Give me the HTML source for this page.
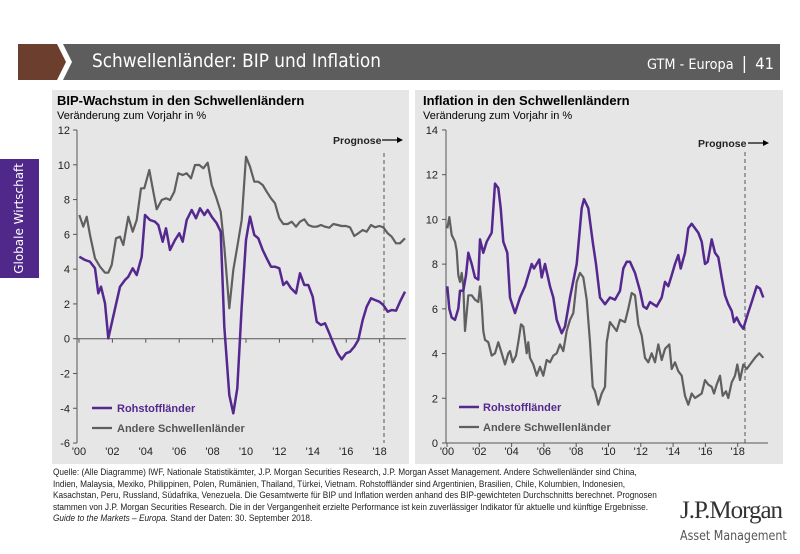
<!DOCTYPE html>
<html><head><meta charset="utf-8"><style>
body{margin:0;width:800px;height:554px;background:#fff;overflow:hidden;position:relative;font-family:"Liberation Sans",Arial,sans-serif}
.a{position:absolute}
</style></head><body>
<svg class="a" style="left:0;top:0" width="800" height="554" viewBox="0 0 800 554">
<polygon points="18,44 57,44 66,62 57,80 18,80" fill="#6b3e2e"/>
<polygon points="63,44 780,44 780,80 63,80 72,62" fill="#5d5d5d"/>
<rect x="0" y="159" width="39" height="119" fill="#50288a"/>
<rect x="52" y="90" width="357" height="374" fill="#e6e6e6"/>
<rect x="415" y="90" width="368" height="374" fill="#e6e6e6"/>
<g id="g"></g>
</svg>
<div class="a" style="left:92px;top:50px;color:#fff;font-size:19px;font-family:'DejaVu Sans',sans-serif;transform-origin:0 0;transform:scaleX(0.89);white-space:nowrap">Schwellenländer: BIP und Inflation</div>
<div class="a" style="left:647px;top:54px;color:#fff;font-size:14px;font-family:'DejaVu Sans',sans-serif;transform-origin:0 0;transform:scaleX(0.92);white-space:nowrap">GTM - Europa&nbsp;&nbsp;<span style="font-size:17px">|</span>&nbsp;&nbsp;<span style="font-size:16px">41</span></div>
<div class="a" style="left:6px;top:278px;width:119px;transform-origin:0 0;transform:rotate(-90deg);color:#fff;font-size:12px;font-family:'DejaVu Sans',sans-serif;text-align:center;line-height:26px;white-space:nowrap">Globale Wirtschaft</div>
<div class="a" style="left:57px;top:93px;font-size:13px;font-weight:bold">BIP-Wachstum in den Schwellenländern</div>
<div class="a" style="left:57px;top:110px;font-size:11px">Veränderung zum Vorjahr in %</div>
<div class="a" style="left:423px;top:93px;font-size:13px;font-weight:bold">Inflation in den Schwellenländern</div>
<div class="a" style="left:423px;top:110px;font-size:11px">Veränderung zum Vorjahr in %</div>
<div class="a" style="left:53px;top:467px;font-size:9.2px;line-height:11.6px;color:#222;white-space:nowrap;transform-origin:0 0;transform:scaleX(0.9)">Quelle: (Alle Diagramme) IWF, Nationale Statistikämter, J.P. Morgan Securities Research, J.P. Morgan Asset Management. Andere Schwellenländer sind China,<br>Indien, Malaysia, Mexiko, Philippinen, Polen, Rumänien, Thailand, Türkei, Vietnam. Rohstoffländer sind Argentinien, Brasilien, Chile, Kolumbien, Indonesien,<br>Kasachstan, Peru, Russland, Südafrika, Venezuela. Die Gesamtwerte für BIP und Inflation werden anhand des BIP-gewichteten Durchschnitts berechnet. Prognosen<br>stammen von J.P. Morgan Securities Research. Die in der Vergangenheit erzielte Performance ist kein zuverlässiger Indikator für aktuelle und künftige Ergebnisse.<br><i>Guide to the Markets – Europa.</i> Stand der Daten: 30. September 2018.</div>
<div class="a" style="left:680px;top:497px;font-size:25px;font-family:'Liberation Serif',serif;color:#333;letter-spacing:-1px;white-space:nowrap">J.P.Morgan</div>
<div class="a" style="left:680px;top:528px;font-size:13.5px;font-family:'DejaVu Sans',sans-serif;color:#555;white-space:nowrap;transform-origin:0 0;transform:scaleX(0.82)">Asset Management</div>
<script>
var NS="http://www.w3.org/2000/svg",g=document.getElementById('g');
function el(t,a,txt){var e=document.createElementNS(NS,t);for(var k in a)e.setAttribute(k,a[k]);if(txt!=null)e.textContent=txt;g.appendChild(e);return e;}
function line(x1,y1,x2,y2,c,w,d){var a={x1:x1,y1:y1,x2:x2,y2:y2,stroke:c||'#555','stroke-width':w||1};if(d)a['stroke-dasharray']=d;el('line',a);}
function txt(x,y,s,o){var a={x:x,y:y,'font-size':11,'font-family':'Liberation Sans, Arial, sans-serif',fill:'#222'};for(var k in o)a[k]=o[k];el('text',a,s);}
function poly(pts,ox,oy,col,w){var s=[];for(var i=0;i<pts.length;i+=2)s.push((ox+pts[i]/3).toFixed(1)+','+(oy+pts[i+1]/3).toFixed(1));el('polyline',{points:s.join(' '),fill:'none',stroke:col,'stroke-width':w,'stroke-linejoin':'round'});}
var Lu=17.39,Lz=338.7;
line(77,130,77,443);
for(var v=12;v>=-6;v-=2){var y=Lz-v*Lu;line(73,y,77,y);txt(70,y+4,String(v),{'text-anchor':'end'});}
line(77,Lz,406,Lz);
for(var i=0;i<10;i++){var x=79+i*33.4;line(x,Lz,x,Lz+4);txt(x,455,"'"+(i*2<10?'0':'')+(i*2),{'text-anchor':'middle'});}
line(384,153,384,443,'#555',1,'4,3');
txt(333,144,'Prognose',{'font-weight':'bold','font-size':10.5});
line(382,140,398,140,'#000',1.2);el('polygon',{points:'397,137 403,140 397,143',fill:'#000'});
var gp=[118,285,130,320,140,290,150,345,165,415,180,440,195,458,205,458,215,435,228,355,240,350,250,375,265,290,278,335,290,300,303,205,313,205,328,150,340,215,350,268,365,240,378,235,390,240,403,215,415,160,428,165,440,160,453,175,465,135,478,135,490,145,503,128,515,195,528,230,542,275,553,380,568,565,580,450,592,380,605,300,618,110,630,140,643,185,655,185,668,195,680,215,693,235,705,250,718,295,730,312,743,312,755,305,768,320,780,305,793,298,805,315,818,320,830,320,843,315,855,320,868,323,880,312,893,315,905,318,918,318,930,322,943,348,955,340,968,330,980,335,993,315,1005,322,1018,318,1030,322,1043,340,1055,350,1068,370,1080,370,1095,355];
var pp=[118,410,135,420,150,425,165,445,175,520,183,500,195,550,205,655,215,610,240,500,255,480,265,470,278,445,290,465,305,410,315,285,330,300,345,305,355,315,368,365,378,325,390,390,405,360,418,340,428,365,440,300,455,270,468,295,480,265,493,285,503,270,515,290,530,310,542,335,553,620,568,825,580,880,592,805,605,560,618,360,630,290,643,345,655,355,668,390,680,415,693,440,705,440,718,445,730,495,740,485,753,505,768,520,780,460,793,495,805,495,818,530,830,605,843,615,855,610,868,640,880,670,893,700,905,718,918,700,930,695,943,680,955,660,968,600,980,560,993,535,1005,540,1018,545,1030,555,1043,575,1055,570,1068,572,1080,545,1095,515];
poly(gp,40,120,'#5f5f5f',2.2);poly(pp,40,120,'#55288f',2.5);
line(92,408,112,408,'#55288f',2.5);txt(117,412,'Rohstoffländer',{'font-weight':'bold',fill:'#55288f'});
line(92,428,112,428,'#5f5f5f',2.2);txt(117,432,'Andere Schwellenländer',{'font-weight':'bold',fill:'#555'});
var Rz=443,Ru=22.36;
line(446,130,446,443);
for(var v=0;v<=14;v+=2){var y=Rz-v*Ru;line(442,y,446,y);txt(438,y+4,String(v),{'text-anchor':'end'});}
line(446,Rz,768,Rz);
for(var i=0;i<10;i++){var x=447+i*32.3;line(x,Rz,x,Rz+4);txt(x,455,"'"+(i*2<10?'0':'')+(i*2),{'text-anchor':'middle'});}
line(745,152,745,443,'#555',1,'4,3');
txt(698,147,'Prognose',{'font-weight':'bold','font-size':10.5});
line(748,143,764,143,'#000',1.2);el('polygon',{points:'763,140 769,143 763,146',fill:'#000'});
function conv(a){var r=[];for(var i=0;i<a.length;i+=2){r.push(a[i],968-67*a[i+1]);}return r;}
var ip=[112,7.0,118,6.0,125,5.6,135,5.5,145,6.0,150,6.8,160,6.8,168,7.5,175,8.5,185,8.0,195,7.4,205,7.3,210,9.1,220,8.5,230,9.0,245,9.4,255,11.6,265,11.4,272,10.5,280,9.0,292,8.5,300,6.5,315,5.8,330,6.5,345,7.0,365,8.0,372,7.8,388,8.2,395,7.4,405,8.0,420,7.0,430,6.5,440,5.5,455,4.9,465,5.2,480,6.5,500,8.0,515,10.5,522,10.9,535,10.5,548,9.0,558,8.0,570,6.5,585,6.2,600,6.5,615,6.4,630,6.8,640,7.8,650,8.1,660,8.1,675,7.6,690,6.8,700,6.1,710,6.0,720,6.3,740,6.1,755,6.5,765,7.2,775,7.0,785,7.5,795,8.0,805,8.4,812,7.8,825,8.5,835,9.6,845,9.8,855,9.6,865,9.4,875,9.0,885,8.0,893,8.1,905,9.1,915,8.5,925,8.3,935,7.4,945,6.6,955,6.2,965,5.9,972,5.4,980,5.6,990,5.3,1000,5.1,1012,5.7,1025,6.3,1040,7.0,1050,6.9,1060,6.5];
var ig=[112,9.6,118,10.1,125,9.3,135,9.0,140,8.6,145,7.5,150,7.2,155,7.6,160,7.0,165,5.0,170,5.8,175,6.6,185,6.6,195,6.4,205,6.3,210,7.0,215,6.2,220,5.0,225,4.6,235,4.5,245,3.9,255,4.0,265,4.5,275,4.0,285,3.5,295,4.0,300,4.1,308,3.6,318,3.9,325,4.5,333,5.3,340,5.2,350,4.0,355,4.5,360,3.8,370,3.5,380,3.0,390,3.4,400,3.0,410,3.7,420,3.6,430,3.9,440,4.0,450,4.4,460,4.1,470,5.0,480,5.5,490,5.8,500,7.2,510,7.6,520,7.4,530,6.4,540,4.5,548,2.5,555,2.3,565,1.7,575,2.2,585,2.5,590,4.5,600,5.4,610,5.2,620,5.0,630,5.5,645,5.4,655,6.0,665,6.7,675,6.6,685,5.3,695,4.8,705,3.8,715,3.6,725,4.0,735,3.6,745,4.4,755,3.7,765,4.2,778,4.4,785,3.3,795,3.6,805,3.2,815,3.0,825,2.1,835,1.7,845,2.2,855,2.0,865,2.1,875,2.2,885,2.8,895,2.6,905,2.5,912,2.2,920,2.6,930,3.0,938,2.1,948,2.3,955,2.0,965,2.7,975,3.0,982,3.5,990,2.8,1000,3.5,1010,3.3,1020,3.5,1035,3.8,1048,4.0,1060,3.8];
poly(conv(ig),410,120,'#5f5f5f',2.2);poly(conv(ip),410,120,'#55288f',2.5);
line(459,407,479,407,'#55288f',2.5);txt(483,411,'Rohstoffländer',{'font-weight':'bold',fill:'#55288f'});
line(459,427,479,427,'#5f5f5f',2.2);txt(483,431,'Andere Schwellenländer',{'font-weight':'bold',fill:'#555'});
</script>
</body></html>
